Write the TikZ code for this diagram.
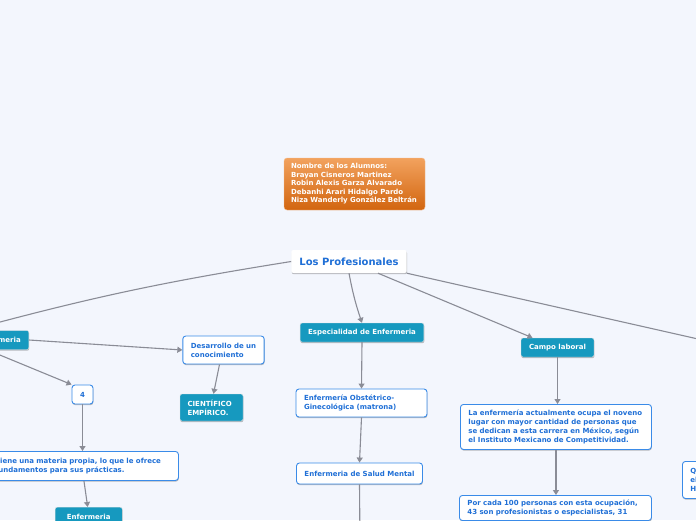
\documentclass[tikz,border=0pt]{standalone}
\usepackage{fontspec}
\setmainfont{DejaVu Sans}
\usetikzlibrary{arrows.meta,shadows}
\definecolor{fondo}{HTML}{F3F6FD}
\definecolor{azul}{HTML}{1F6FD6}
\definecolor{borde}{HTML}{3A8BE8}
\definecolor{turquesa}{HTML}{1699BF}
\definecolor{naranjaclaro}{HTML}{F2A25E}
\definecolor{naranjaoscuro}{HTML}{D2650F}
\definecolor{linea}{HTML}{8A8C96}
\newcommand{\letra}{\bfseries\fontsize{7}{9}\selectfont}
\tikzset{
  sombra/.style={drop shadow={shadow xshift=0.4pt,shadow yshift=-1.2pt,opacity=0.25,fill=black}},
  tema/.style={fill=turquesa, draw=black!12, text=white, rounded corners=2pt, font=\letra,
    inner xsep=8pt, inner ysep=0pt, minimum height=19pt, sombra},
  idea/.style={fill=white, draw=borde, line width=0.9pt, text=azul, rounded corners=3pt,
    font=\letra, align=left, inner xsep=8pt, inner ysep=0pt, sombra},
  alumnos/.style={top color=naranjaclaro, bottom color=naranjaoscuro, draw=naranjaclaro!70,
    rounded corners=3pt, text=white, align=left, inner xsep=7pt,
    font=\bfseries\fontsize{7}{8.5}\selectfont},
  conector/.style={color=linea, line width=1.1pt, -{Triangle[width=6pt,length=5pt]}},
}
\begin{document}
\begin{tikzpicture}[x=1pt,y=-1pt]
  \useasboundingbox (0,0) rectangle (696,520);
  \fill[fondo] (0,0) rectangle (696,520);
  \clip (0,0) rectangle (696,520);

  % centro
  \node[alumnos, text width=127pt, minimum height=52pt, minimum width=141pt] (nombres) at (354.5,184)
    {Nombre de los Alumnos:\\Brayan Cisneros Martinez\\Robin Alexis Garza Alvarado\\Debanhi Arari Hidalgo Pardo\\Niza Wanderly González Beltrán};
  \node[fill=white, text=azul, rounded corners=2pt, font=\bfseries\fontsize{10}{12}\selectfont,
    minimum height=23pt, inner xsep=8pt, sombra] (prof) at (349,261.5) {Los Profesionales};

  % rama izquierda
  \node[tema, anchor=east] (enf) at (29,340) {Enfermeria};
  \node[idea, minimum height=28pt] (desarrollo) at (223.5,350) {Desarrollo de un\\conocimiento};
  \node[tema, align=left, text width=48pt, inner xsep=7.5pt, minimum height=27pt] (cientifico) at (211.5,407.5) {CIENTÍFICO\\EMPÍRICO.};
  \node[idea, align=center, minimum width=21pt, minimum height=19pt, inner xsep=0pt] (cuatro) at (82.5,394.5) {4};
  \node[idea, anchor=north west, text width=175pt, minimum height=29pt] (tiene) at (-13,451)
    {Tiene una materia propia, lo que le ofrece\\fundamentos para sus prácticas.};
  \node[tema, anchor=north west, minimum width=67pt, align=left] (enfdos) at (55,507) {Enfermeria};

  % rama central
  \node[tema] (espec) at (362,332.5) {Especialidad de Enfermeria};
  \node[idea, text width=115pt, minimum height=28pt] (obst) at (361.5,403) {Enfermería Obstétrico-\\Ginecológica (matrona)};
  \node[idea, minimum height=21pt, minimum width=125pt, align=center] (salud) at (359.5,473.5) {Enfermeria de Salud Mental};
  \coordinate (abajo) at (360,545);

  % rama derecha
  \node[tema] (campo) at (557.5,347.5) {Campo laboral};
  \node[idea, anchor=north west, text width=175pt, minimum height=45pt] (laenf) at (460,404)
    {La enfermería actualmente ocupa el noveno\\lugar con mayor cantidad de personas que\\se dedican a esta carrera en México, según\\el Instituto Mexicano de Competitividad.};
  \node[idea, anchor=north west, text width=176pt, inner ysep=4.5pt, align=left] (porcada) at (459,495)
    {Por cada 100 personas con esta ocupación,\\43 son profesionistas o especialistas, 31};
  \node[idea, anchor=north west, text width=60pt, minimum height=37pt] (qbox) at (682,461) {Q\\el\\H};
  \coordinate (derecha) at (760,353);

  \path[conector] (prof.west) edge[bend right=3] (enf.north west);
  \path[conector] (prof.south) edge[bend right=4] (espec.north);
  \path[conector] ([xshift=29pt]prof.south) edge ([xshift=-25pt]campo.north);
  \path[conector] (prof.south east) edge (derecha);
  \path[conector] (enf.east) edge (desarrollo.west);
  \path[conector] ([xshift=-12pt]enf.south) edge (cuatro.north west);
  \path[conector] ([xshift=-4pt]desarrollo.south) edge ([xshift=2pt]cientifico.north);
  \path[conector] (cuatro.south) edge (cuatro.south |- tiene.north);
  \path[conector] ([xshift=1pt]tiene.south) edge ([xshift=-1pt]enfdos.north);
  \path[conector] (espec.south) edge (obst.north);
  \path[conector] (obst.south) edge (salud.north);
  \path[conector] (salud.south) edge (abajo);
  \path[conector] (campo.south) edge (campo.south |- laenf.north);
  \path[conector] (laenf.south) edge (laenf.south |- porcada.north);
\end{tikzpicture}
\end{document}
